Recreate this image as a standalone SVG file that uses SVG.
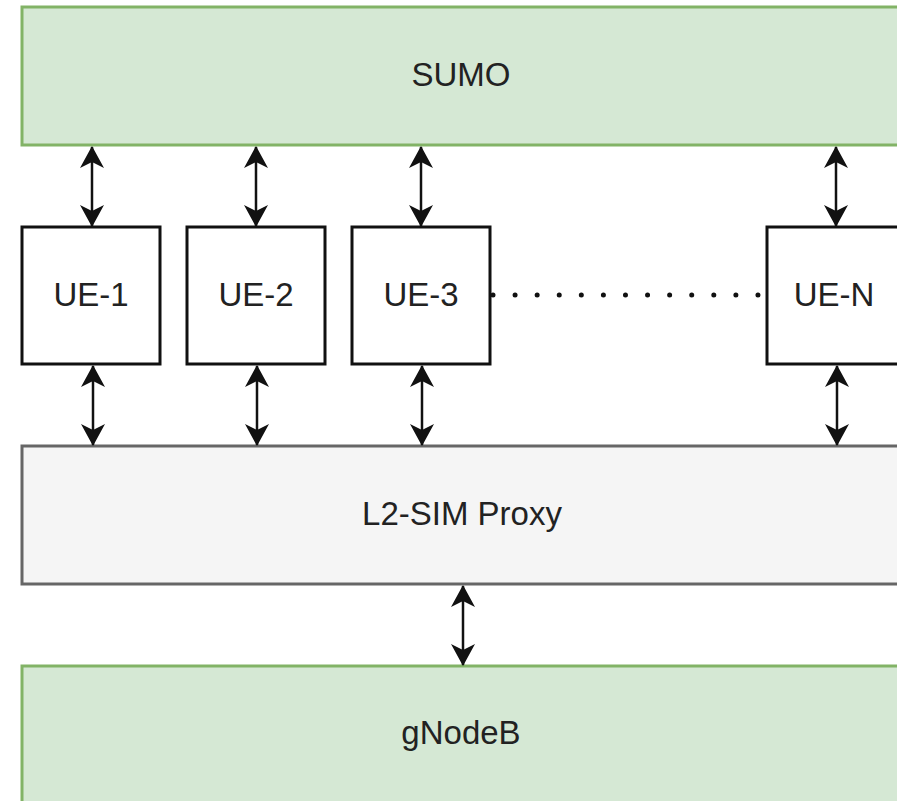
<svg xmlns="http://www.w3.org/2000/svg" width="897" height="801" viewBox="0 0 897 801">
<style>
.green{fill:#d5e8d4;stroke:#82b366;stroke-width:3}
.grey{fill:#f5f5f5;stroke:#666666;stroke-width:3}
.ue{fill:#ffffff;stroke:#111111;stroke-width:3}
.lbl{font-family:"Liberation Sans",Arial,sans-serif;font-size:33px;fill:#222222;text-anchor:middle}
.arr{stroke:#111111;stroke-width:2.5;fill:none;marker-start:url(#ah);marker-end:url(#ah)}
.dots{stroke:#111111;stroke-width:5;stroke-linecap:round;stroke-dasharray:0 22.08;fill:none}
</style>
<defs>
<marker id="ah" viewBox="0 0 22 24" refX="21" refY="12" markerWidth="22" markerHeight="24" markerUnits="userSpaceOnUse" orient="auto-start-reverse">
<path d="M0,0 L22,12 L0,24 L6,12 Z" fill="#111111"/>
</marker>
</defs>
<g id="sumo"><rect class="green" x="22" y="7" width="882" height="138"/><text class="lbl" x="461" y="86">SUMO</text></g>
<g id="ue1"><rect class="ue" x="22" y="227" width="138" height="137"/><text class="lbl" x="91" y="306">UE-1</text></g>
<g id="ue2"><rect class="ue" x="187" y="227" width="138" height="137"/><text class="lbl" x="256" y="306">UE-2</text></g>
<g id="ue3"><rect class="ue" x="352" y="227" width="138" height="137"/><text class="lbl" x="421" y="306">UE-3</text></g>
<g id="uen"><rect class="ue" x="767" y="227" width="140" height="137"/><text class="lbl" x="834" y="306">UE-N</text></g>
<g id="proxy"><rect class="grey" x="22" y="446" width="882" height="138"/><text class="lbl" x="462" y="525">L2-SIM Proxy</text></g>
<g id="gnodeb"><rect class="green" x="22" y="666" width="882" height="150"/><text class="lbl" x="461" y="744">gNodeB</text></g>
<g id="connectors">
<line class="arr" x1="92" y1="147" x2="92" y2="226"/>
<line class="arr" x1="256" y1="147" x2="256" y2="226"/>
<line class="arr" x1="421" y1="147" x2="421" y2="226"/>
<line class="arr" x1="836" y1="147" x2="836" y2="226"/>
<line class="arr" x1="93" y1="366" x2="93" y2="445"/>
<line class="arr" x1="257" y1="366" x2="257" y2="445"/>
<line class="arr" x1="422" y1="366" x2="422" y2="445"/>
<line class="arr" x1="837" y1="366" x2="837" y2="445"/>
<line class="arr" x1="463" y1="586" x2="463" y2="665"/>
<line class="dots" x1="493" y1="295" x2="759" y2="295"/>
</g>
</svg>
